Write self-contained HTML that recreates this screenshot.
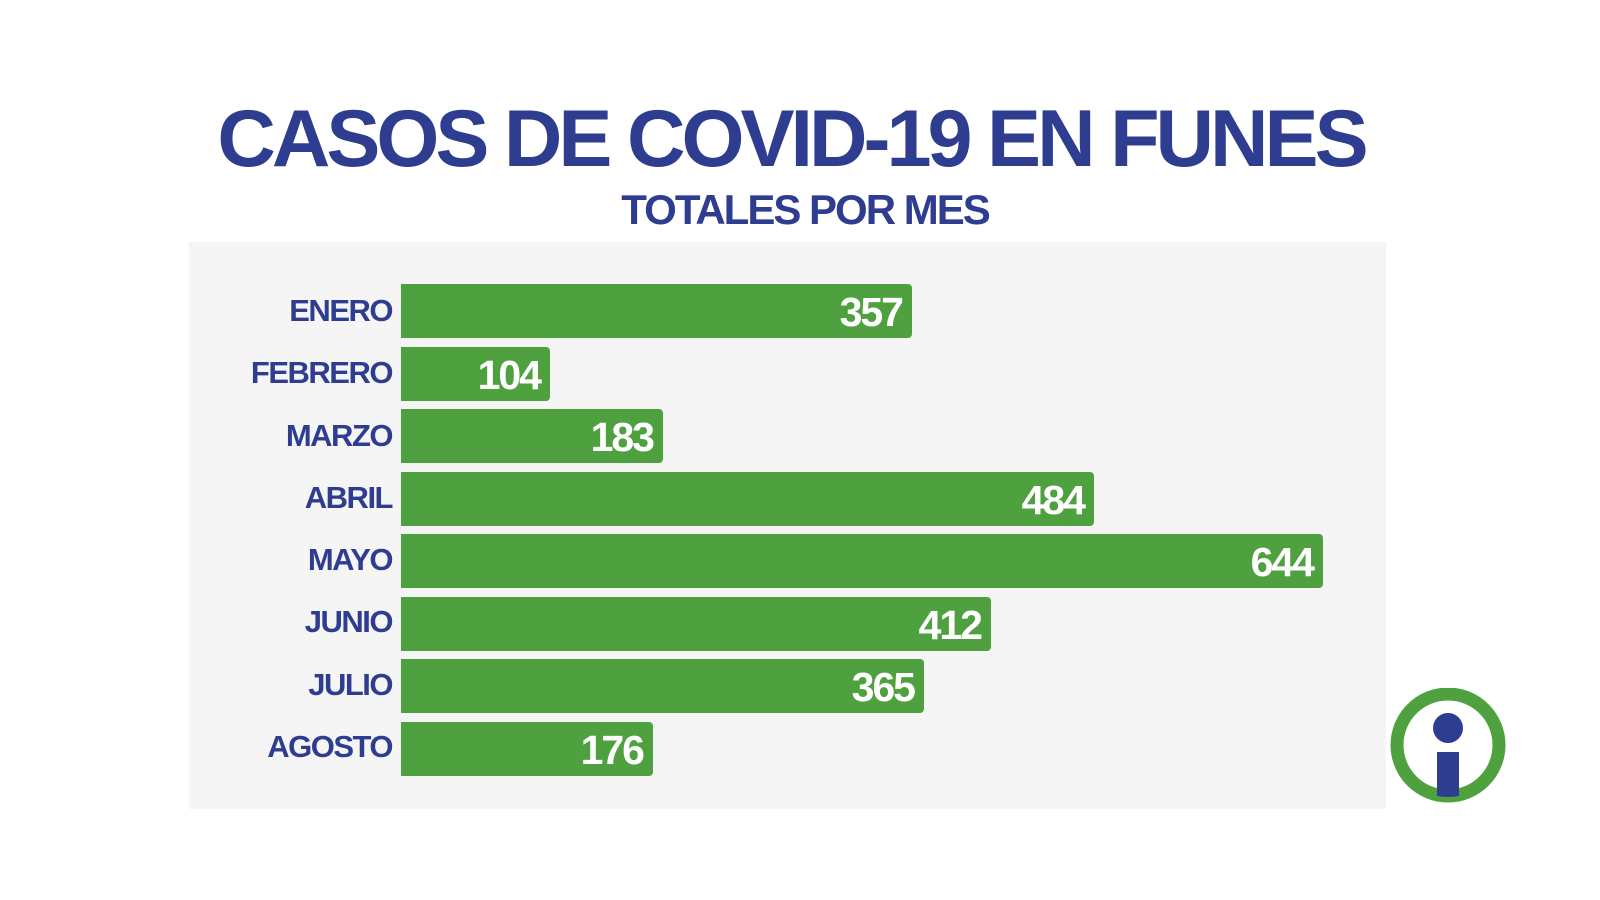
<!DOCTYPE html>
<html><head><meta charset="utf-8"><style>
body{margin:0;width:1600px;height:900px;background:#fff;position:relative;overflow:hidden;font-family:"Liberation Sans",sans-serif;font-weight:900}
.t{position:absolute;color:#2e3d8f;font-weight:bold;text-align:center}
#panel{position:absolute;left:189px;top:242px;width:1197px;height:567px;background:#f5f5f5}
.lab{position:absolute;right:1208px;color:#2e3d8f;font-weight:bold;font-size:31px;letter-spacing:-1.5px;text-align:right;line-height:54px}
.bar{position:absolute;left:401px;height:54px;background:#4fa13f;border-radius:0 4px 4px 0;color:#fff;font-weight:bold;font-size:41px;text-align:right;line-height:56px;box-sizing:border-box;padding-right:10px;letter-spacing:-2px}
</style></head><body>
<div class="t" style="left:0;width:1582px;top:94px;font-size:81px;letter-spacing:-4px;line-height:90px">CASOS DE COVID-19 EN FUNES</div>
<div class="t" style="left:0;width:1610px;top:186px;font-size:42px;letter-spacing:-2px;line-height:48px">TOTALES POR MES</div>
<div id="panel"></div>
<div class="lab" style="top:284px">ENERO</div><div class="bar" style="top:284px;width:511px">357</div>
<div class="lab" style="top:346px">FEBRERO</div><div class="bar" style="top:347px;width:149px">104</div>
<div class="lab" style="top:409px">MARZO</div><div class="bar" style="top:409px;width:262px">183</div>
<div class="lab" style="top:471px">ABRIL</div><div class="bar" style="top:472px;width:693px">484</div>
<div class="lab" style="top:533px">MAYO</div><div class="bar" style="top:534px;width:922px">644</div>
<div class="lab" style="top:595px">JUNIO</div><div class="bar" style="top:597px;width:590px">412</div>
<div class="lab" style="top:658px">JULIO</div><div class="bar" style="top:659px;width:523px">365</div>
<div class="lab" style="top:720px">AGOSTO</div><div class="bar" style="top:722px;width:252px">176</div>
<svg style="position:absolute;left:1390px;top:688px" width="116" height="116">
<circle cx="58" cy="57" r="51" fill="#fff" stroke="#4fa13f" stroke-width="13"/>
<circle cx="58" cy="40" r="15" fill="#2e3d8f"/>
<path d="M47 64h22v44a60 60 0 0 1-22 0z" fill="#2e3d8f"/>
</svg>
</body></html>
